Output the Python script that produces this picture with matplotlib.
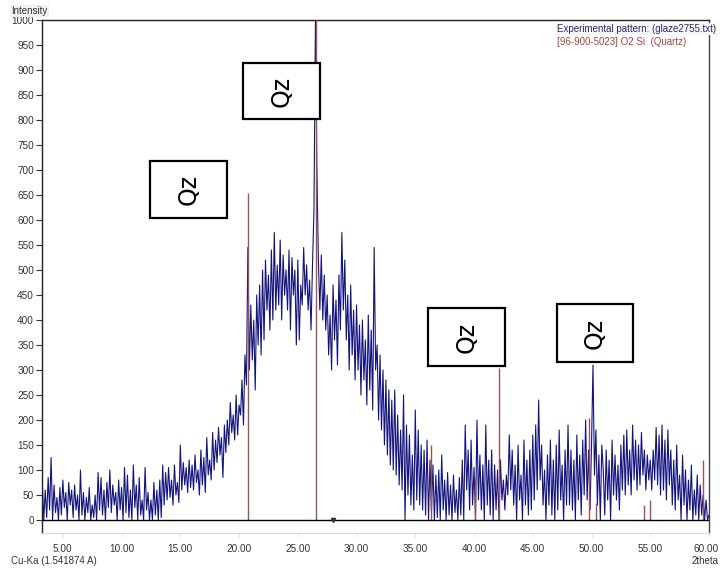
import numpy as np
import matplotlib
matplotlib.use("Agg")
import matplotlib.pyplot as plt
from matplotlib.patches import Rectangle
from matplotlib.transforms import ScaledTranslation

# ---- data -------------------------------------------------------------
two_theta_start = 3.0
two_theta_step = 0.125
intensity_rows = [
    [80, 10, 75, 0, 60, 5, 85, 20],          # 3
    [125, 0, 70, 15, 45, 0, 65, 10],         # 4
    [80, 25, 55, 0, 75, 30, 60, 5],          # 5
    [70, 20, 50, 0, 100, 10, 55, 0],         # 6
    [45, 15, 65, 0, 30, 5, 50, 0],           # 7
    [95, 20, 85, 10, 60, 0, 75, 25],         # 8
    [100, 15, 70, 30, 55, 0, 80, 20],        # 9
    [65, 0, 105, 15, 90, 5, 60, 0],          # 10
    [110, 25, 70, 0, 85, 10, 40, 0],         # 11
    [105, 20, 55, 0, 40, 0, 75, 10],         # 12
    [60, 0, 80, 5, 110, 30, 95, 40],         # 13
    [105, 45, 80, 30, 110, 50, 75, 35],      # 14
    [150, 60, 115, 70, 105, 55, 120, 65],    # 15
    [110, 60, 130, 75, 100, 50, 140, 70],    # 16
    [125, 55, 165, 90, 120, 80, 175, 100],   # 17
    [160, 115, 185, 130, 165, 85, 190, 135], # 18
    [200, 150, 235, 175, 210, 160, 250, 170],# 19
    [230, 210, 280, 190, 330, 270, 545, 300],# 20
    [430, 320, 400, 260, 450, 350, 470, 330],# 21
    [500, 360, 520, 420, 490, 380, 540, 400],# 22
    [575, 420, 510, 430, 560, 400, 530, 450],# 23
    [500, 420, 540, 380, 525, 450, 500, 350],# 24
    [520, 360, 470, 430, 545, 450, 510, 420],# 25
    [480, 380, 510, 620, 1000, 700, 520, 420],# 26
    [530, 400, 490, 380, 450, 330, 410, 300],# 27
    [470, 360, 440, 310, 490, 380, 575, 420],# 28
    [520, 360, 450, 300, 470, 330, 420, 280],# 29
    [430, 300, 390, 250, 400, 280, 360, 230],# 30
    [410, 260, 380, 220, 545, 300, 350, 200],# 31
    [330, 180, 300, 150, 280, 130, 260, 110],# 32
    [240, 100, 260, 90, 210, 70, 180, 60],   # 33
    [250, 0, 190, 50, 170, 30, 130, 20],     # 34
    [220, 40, 180, 30, 150, 20, 140, 10],    # 35
    [160, 0, 120, 15, 110, 0, 90, 5],        # 36
    [100, 0, 130, 20, 80, 0, 95, 10],        # 37
    [70, 0, 90, 15, 60, 0, 85, 10],          # 38
    [120, 0, 190, 60, 140, 20, 160, 30],     # 39
    [105, 0, 200, 40, 130, 20, 110, 0],      # 40
    [190, 30, 120, 10, 140, 0, 110, 20],     # 41
    [100, 0, 120, 40, 80, 20, 90, 50],       # 42
    [170, 60, 140, 30, 110, 0, 150, 40],     # 43
    [90, 0, 160, 30, 120, 10, 140, 20],      # 44
    [170, 40, 190, 60, 240, 80, 150, 30],    # 45
    [100, 0, 130, 30, 160, 10, 120, 0],      # 46
    [150, 20, 180, 40, 110, 0, 140, 30],     # 47
    [190, 30, 140, 20, 120, 0, 170, 40],     # 48
    [130, 10, 160, 50, 200, 40, 140, 20],    # 49
    [150, 310, 90, 180, 30, 130, 0, 150],    # 50
    [100, 10, 140, 40, 120, 0, 160, 50],     # 51
    [130, 40, 110, 20, 150, 60, 170, 50],    # 52
    [180, 70, 140, 50, 190, 80, 160, 60],    # 53
    [150, 70, 175, 90, 140, 60, 130, 80],    # 54
    [120, 60, 140, 80, 185, 70, 170, 50],    # 55
    [190, 60, 160, 40, 180, 70, 140, 30],    # 56
    [120, 20, 150, 40, 90, 0, 130, 30],      # 57
    [100, 0, 80, 20, 110, 0, 60, 10],        # 58
    [90, 0, 70, 10, 50, 0, 40, 0],           # 59
    [10],                                    # 60
]

quartz_positions = [20.75, 26.55, 36.35, 40.05, 42.1, 49.8, 50.4, 54.45, 55.0, 59.5]
quartz_heights = [655, 1000, 150, 85, 305, 205, 35, 30, 40, 120]

qz_labels = ["Qz", "Qz", "Qz", "Qz"]

y_ticks = list(range(0, 1001, 50))
x_ticks = [5, 10, 15, 20, 25, 30, 35, 40, 45, 50, 55, 60]

# ---- build series ------------------------------------------------------
intensity = np.array([v for row in intensity_rows for v in row], dtype=float)
two_theta = two_theta_start + two_theta_step * np.arange(len(intensity))

# ---- figure -----------------------------------------------------------
W, H = 720, 569
fig = plt.figure(figsize=(W / 100, H / 100), dpi=100)
fig.patch.set_facecolor("white")

ax_l, ax_r, ax_t, ax_b = 41.7, 709, 20, 533
ax = fig.add_axes([ax_l / W, 1 - ax_b / H, (ax_r - ax_l) / W, (ax_b - ax_t) / H])

xmin, xmax = 3.2, 60.0
ymin, ymax = -26, 1000
ax.set_xlim(xmin, xmax)
ax.set_ylim(ymin, ymax)

ax.plot(two_theta, intensity, color="#14147e", lw=0.8, zorder=2, clip_on=True)
ax.vlines(quartz_positions, 0, quartz_heights, color="#a05252", lw=1.0, zorder=3)
ax.axhline(0, color="black", lw=1.0, zorder=4)

tick_font = {"family": "Liberation Sans", "size": 7.2}
ax.set_yticks(y_ticks)
ax.set_yticklabels([str(v) for v in y_ticks], fontdict=tick_font, color="#333333")
ax.set_xticks(x_ticks)
ax.set_xticklabels([f"{v:.2f}" for v in x_ticks], fontdict=tick_font, color="#333333")
ax.tick_params(axis="y", direction="out", length=4, width=0.8, color="#333333", pad=1.5)
ax.tick_params(axis="x", direction="out", length=3, width=0.6, color="#dddddd", pad=5)
# keep the last x label inside the image, ending at the right image edge
last_lab = ax.get_xticklabels()[-1]
last_lab.set_horizontalalignment("right")
last_lab.set_transform(last_lab.get_transform() + ScaledTranslation(0.10, 0, fig.dpi_scale_trans))

for side in ["left", "top"]:
    ax.spines[side].set_color("#222222")
    ax.spines[side].set_linewidth(1.0)
ax.spines["right"].set_color("#444444")
ax.spines["right"].set_linewidth(1.0)
ax.spines["bottom"].set_color("#dcdcdc")
ax.spines["bottom"].set_linewidth(0.8)

# small marker on the zero line
ax.plot([28.0], [0], marker="v", ms=3, color="#333333", zorder=5, clip_on=False)

# Qz annotation boxes (pixel layout converted to data coordinates)
def px2data(px, py):
    x = xmin + (px - ax_l) / (ax_r - ax_l) * (xmax - xmin)
    y = ymax - (py - ax_t) / (ax_b - ax_t) * (ymax - ymin)
    return x, y

box_px = [(150, 161, 227, 218), (243, 63, 320, 119), (428, 308, 505, 366), (557, 304, 633, 362)]
for (l, t, r, b), lab in zip(box_px, qz_labels):
    x0, y1 = px2data(l, t)
    x1, y0 = px2data(r, b)
    ax.add_patch(Rectangle((x0, y0), x1 - x0, y1 - y0, facecolor="white",
                           edgecolor="black", lw=1.6, zorder=6))
    ax.text((x0 + x1) / 2, (y0 + y1) / 2, lab, rotation=90, ha="center", va="center",
            fontsize=17, family="DejaVu Sans", color="black", zorder=7)

# legend text
fig.text(557 / W, 1 - 29 / H, "Experimental pattern: (glaze2755.txt)", ha="left", va="center",
         fontsize=7, family="Liberation Sans", color="#2b2b6e",
         bbox=dict(facecolor="#f6f6f6", edgecolor="none", pad=1.0))
fig.text(557 / W, 1 - 42 / H, "[96-900-5023] O2 Si  (Quartz)", ha="left", va="center",
         fontsize=7, family="Liberation Sans", color="#a84444")

# corner labels
fig.text(11 / W, 1 - 11 / H, "Intensity", ha="left", va="center",
         fontsize=7, family="Liberation Sans", color="#333333",
         bbox=dict(facecolor="#f2f2f2", edgecolor="none", pad=1.0))
fig.text(11 / W, 1 - 561 / H, "Cu-Ka (1.541874 A)", ha="left", va="center",
         fontsize=7, family="Liberation Sans", color="#333333")
fig.text(719 / W, 1 - 561 / H, "2theta", ha="right", va="center",
         fontsize=7, family="Liberation Sans", color="#333333")

fig.savefig("out.png", dpi=100, facecolor="white")
